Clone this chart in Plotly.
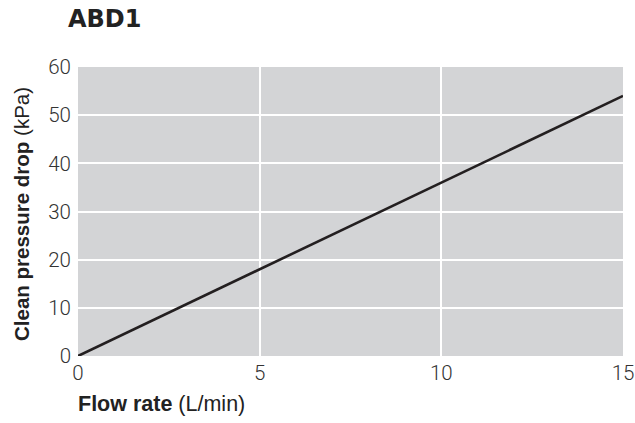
import plotly.graph_objects as go

flow_rate = [0, 5, 10, 15]
pressure_drop = [0, 18, 36, 54]
x_ticks = [0, 5, 10, 15]
y_ticks = [0, 10, 20, 30, 40, 50, 60]

fig = go.Figure()
fig.add_trace(go.Scatter(x=flow_rate, y=pressure_drop, mode="lines",
                         line=dict(color="#231f20", width=2.6), showlegend=False,
                         cliponaxis=False, hoverinfo="skip"))

tickfont = dict(family="Roboto, Liberation Sans, Arial, sans-serif", size=20.5, color="#333333", weight=300)
fig.update_layout(
    width=635, height=423,
    margin=dict(l=78, r=12, t=67, b=67),
    paper_bgcolor="white", plot_bgcolor="#d3d4d6",
    xaxis=dict(range=[0, 15], tickvals=x_ticks, showgrid=True, gridcolor="white", gridwidth=1.5,
               zeroline=False, showline=False, ticks="", tickfont=tickfont, ticklabelstandoff=2,
               automargin=False),
    yaxis=dict(range=[0, 60], tickvals=y_ticks, showgrid=True, gridcolor="white", gridwidth=1.5,
               zeroline=False, showline=False, ticks="", tickfont=tickfont, ticklabelstandoff=6,
               automargin=False),
    annotations=[
        dict(text="<b>ABD1</b>", xref="paper", yref="paper", x=0, y=1.0, xshift=-12, yshift=48.5,
             xanchor="left", yanchor="middle", showarrow=False,
             font=dict(family="DejaVu Sans, sans-serif", size=24, color="#222")),
        dict(text="<b>Flow rate</b> (L/min)", xref="paper", yref="paper", x=0, y=0, yshift=-48,
             xanchor="left", yanchor="middle", showarrow=False, xshift=-2,
             font=dict(family="Liberation Sans, Arial, sans-serif", size=21.5, color="#222")),
        dict(text="<b>Clean pressure drop</b> (kPa)", xref="paper", yref="paper", x=0, y=0.5,
             xshift=-57, yshift=-2.5, xanchor="center", yanchor="middle", textangle=-90, showarrow=False,
             font=dict(family="Liberation Sans, Arial, sans-serif", size=20.5, color="#222")),
    ],
)
fig.write_html("out.html", config={"displayModeBar": False},
               post_script="document.body.style.margin='0';document.documentElement.style.overflow='hidden';")
